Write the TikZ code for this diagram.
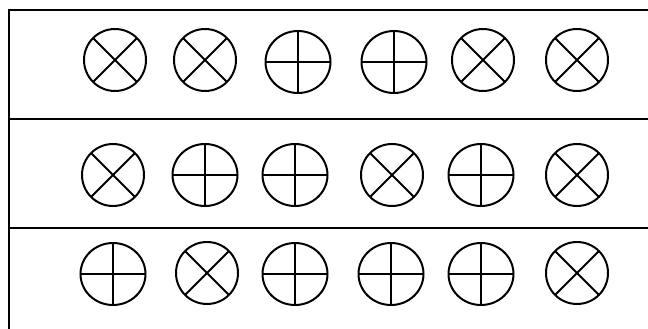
\documentclass[tikz,border=0pt]{standalone}
\usetikzlibrary{shapes.geometric}
\tikzset{
  rule/.style={line width=2.6pt, line cap=rect},
  lampx/.style={circle, draw, line width=2pt, minimum size=62pt, inner sep=0pt,
    path picture={\draw[line width=2pt] (path picture bounding box.north west) -- (path picture bounding box.south east)
      (path picture bounding box.north east) -- (path picture bounding box.south west);}},
  lampp/.style={ellipse, draw, line width=2pt, minimum width=65pt, minimum height=62pt, inner sep=0pt,
    path picture={\draw[line width=2pt] (path picture bounding box.north) -- (path picture bounding box.south)
      (path picture bounding box.west) -- (path picture bounding box.east);}}
}
\begin{document}
\begin{tikzpicture}[x=1pt,y=-1pt]
\useasboundingbox (0,0) rectangle (648,329);
% table rules
\draw[rule] (9,10) -- (648,10);
\draw[rule] (9,119) -- (648,119);
\draw[rule] (9,228) -- (648,228);
\draw[rule] (9,10) -- (9,329);
% row 1
\node[lampx] (a1) at (115,60) {};
\node[lampx] (a2) at (205,60) {};
\node[lampp] (a3) at (298,62) {};
\node[lampp] (a4) at (394,62) {};
\node[lampx] (a5) at (483,60) {};
\node[lampx] (a6) at (577,60) {};
% row 2
\node[lampx] (b1) at (113,175) {};
\node[lampp] (b2) at (205,175) {};
\node[lampp] (b3) at (295,175) {};
\node[lampx] (b4) at (392,175) {};
\node[lampp] (b5) at (481,175) {};
\node[lampx] (b6) at (577,175) {};
% row 3
\node[lampp] (c1) at (113,274) {};
\node[lampx] (c2) at (207,273) {};
\node[lampp] (c3) at (295,274) {};
\node[lampp] (c4) at (391,274) {};
\node[lampp] (c5) at (481,274) {};
\node[lampx] (c6) at (577,273) {};
\end{tikzpicture}
\end{document}
